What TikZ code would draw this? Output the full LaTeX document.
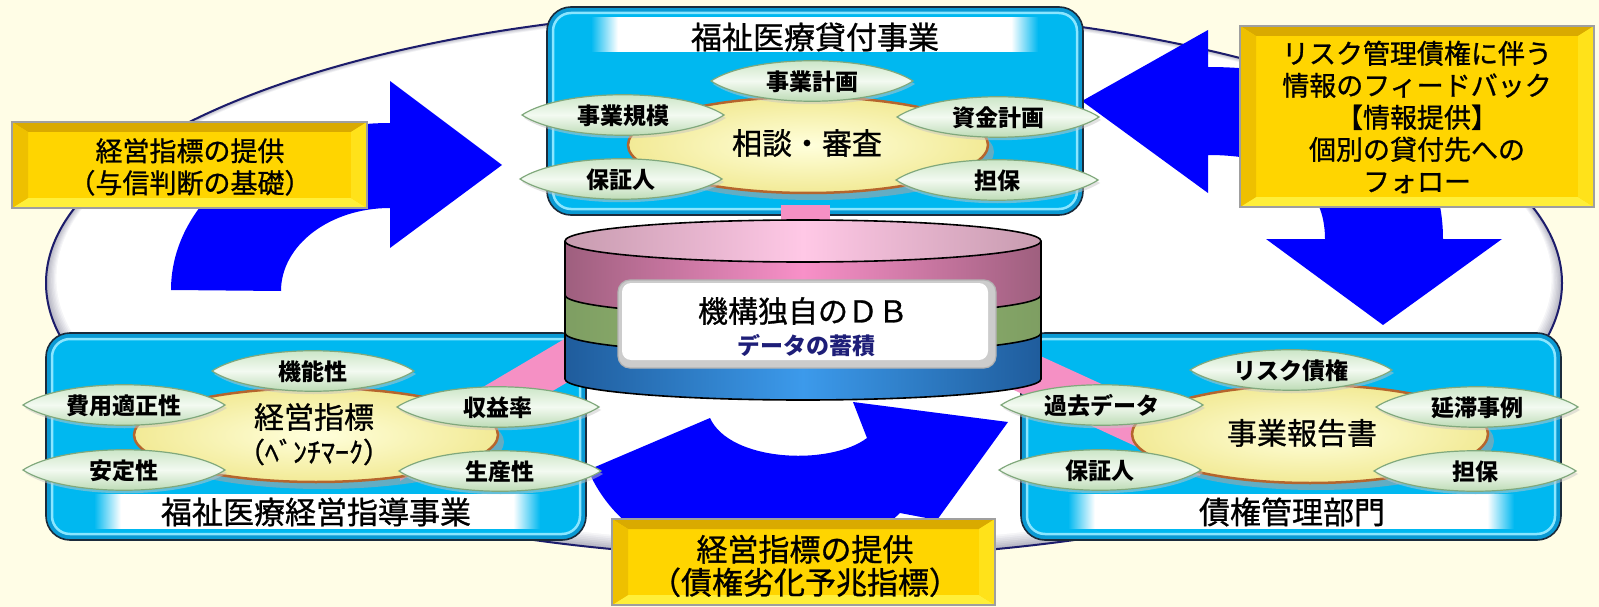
\documentclass[tikz,border=0pt]{standalone}
\usepackage{fontspec}
\newfontfamily\jp{Noto Sans CJK JP}
\newfontfamily\jpm{Noto Sans CJK JP}[FakeBold=0.9]
\definecolor{paper}{HTML}{FFFDE6}
\definecolor{rimnavy}{HTML}{1C1C6B}
\definecolor{rimgray}{HTML}{B4B4C2}
\definecolor{arrowblue}{HTML}{0000FF}
\definecolor{boxcyan}{HTML}{00B8F0}
\definecolor{boxedge}{HTML}{0A9AD4}
\definecolor{boxline}{HTML}{1B2B3B}
\definecolor{boxglow}{HTML}{8AE6FF}
\definecolor{linkpink}{HTML}{F590C4}
\definecolor{hubfill}{HTML}{FFFFDC}
\definecolor{hubedge}{HTML}{F2EA96}
\definecolor{hubrim}{HTML}{B5652D}
\definecolor{lenstop}{HTML}{BFDFB9}
\definecolor{lensmid}{HTML}{F3FAF1}
\definecolor{lensbot}{HTML}{ABD1A2}
\definecolor{lensrim}{HTML}{80A87C}
\definecolor{platefill}{HTML}{FFD500}
\definecolor{bevtop}{HTML}{D9AA00}
\definecolor{bevleft}{HTML}{EEC000}
\definecolor{bevright}{HTML}{FFE21A}
\definecolor{bevbot}{HTML}{FFEF3A}
\definecolor{dbtopedge}{HTML}{C79BAF}
\definecolor{dbtopmid}{HTML}{FFC8E6}
\definecolor{dbpinkedge}{HTML}{9E5F7E}
\definecolor{dbpinkmid}{HTML}{F890C8}
\definecolor{dbgreenedge}{HTML}{7E9E62}
\definecolor{dbgreenmid}{HTML}{9CC07A}
\definecolor{dbblueedge}{HTML}{1F5C9C}
\definecolor{dbbluemid}{HTML}{3C9AEB}
\definecolor{dbnavy}{HTML}{1E1E78}

% white title strip whose ends melt into the panel colour
\pgfdeclarehorizontalshading{barfade}{100bp}{color(0bp)=(boxcyan); color(25bp)=(boxcyan); color(28bp)=(white); color(72bp)=(white); color(75bp)=(boxcyan); color(100bp)=(boxcyan)}

% pointed green tag with its text
\newcommand\lens[4]{%
  \fill[gray!45, opacity=0.5] (#2-99,#3+3) .. controls (#2-60,#3-23) and (#2+60,#3-23) .. (#2+103,#3+3)
     .. controls (#2+60,#3+30) and (#2-60,#3+30) .. (#2-99,#3+3) -- cycle;
  \path[lensbody] (#2-101,#3) .. controls (#2-60,#3-27) and (#2+60,#3-27) .. (#2+101,#3)
     .. controls (#2+60,#3+27) and (#2-60,#3+27) .. (#2-101,#3) -- cycle;
  \node[lenslabel] (#1) at (#2,#3+1) {#4};}

% bevelled gold plate
\newcommand\goldplate[4]{%
  \fill[platefill] (#1,#2) rectangle (#3,#4);
  \fill[bevtop] (#1,#2) -- (#3,#2) -- (#3-16,#2+10) -- (#1+16,#2+10) -- cycle;
  \fill[bevbot] (#1,#4) -- (#3,#4) -- (#3-16,#4-10) -- (#1+16,#4-10) -- cycle;
  \fill[bevleft] (#1,#2) -- (#1+16,#2+10) -- (#1+16,#4-10) -- (#1,#4) -- cycle;
  \fill[bevright] (#3,#2) -- (#3-16,#2+10) -- (#3-16,#4-10) -- (#3,#4) -- cycle;
  \draw[gray!75, line width=2pt] (#1,#2) rectangle (#3,#4);}

% rounded cyan panel
\newcommand\panel[4]{%
  \filldraw[fill=boxedge, draw=boxline, line width=1.6pt, rounded corners=24pt] (#1,#2) rectangle (#3,#4);
  \filldraw[fill=boxcyan, draw=boxglow, line width=2.5pt, rounded corners=18pt] (#1+6,#2+6) rectangle (#3-6,#4-6);}

\begin{document}
\begin{tikzpicture}[x=1pt, y=-1pt,
  lensbody/.style={top color=lenstop, bottom color=lensbot, middle color=lensmid, draw=lensrim, line width=1.2pt},
  lenslabel/.style={font=\jp\bfseries\fontsize{23}{26}\selectfont, inner sep=0pt},
  hub/.style={inner color=hubfill, outer color=hubedge, draw=hubrim, line width=2.5pt},
  hubshadow/.style={fill=gray!70, opacity=0.6},
  hubtext/.style={font=\jpm\fontsize{30}{34}\selectfont, inner sep=0pt},
  paneltitle/.style={font=\jpm\fontsize{31}{34}\selectfont, inner sep=0pt},
  notetext/.style={font=\jpm\fontsize{27}{32}\selectfont, align=center, inner sep=0pt},
  dbline/.style={draw=black, line width=1.6pt},
  dbtitle/.style={font=\jpm\fontsize{30}{34}\selectfont, inner sep=0pt},
  dbsub/.style={font=\jp\bfseries\fontsize{23}{26}\selectfont, text=dbnavy, inner sep=0pt}]
\useasboundingbox (0,0) rectangle (1599,607);
\fill[paper] (0,0) rectangle (1599,607);

% large ring behind everything, shaded towards its rim
\foreach \k in {0,...,8} {
  \pgfmathtruncatemacro\tint{\k*100/8}
  \fill[white!\tint!rimgray] (804,283-0.6*\k) ellipse [x radius=758-1.3*\k, y radius=275-1.2*\k];
}
\draw[rimnavy, line width=2pt] (804,283) ellipse [x radius=758, y radius=275];

% blue flow arrows
\fill[arrowblue] (171,290) .. controls (171,198) and (269,123) .. (390,123) -- (390,81) -- (502,165)
  -- (390,248) -- (390,208) .. controls (330,208) and (281,245) .. (281,291) -- cycle;
\fill[arrowblue] (1208,67) -- (1208,30) -- (1082,101) -- (1208,193) -- (1208,155)
  .. controls (1285,155) and (1325,185) .. (1325,239) -- (1266,239) -- (1383,325) -- (1502,239)
  -- (1443,239) .. controls (1443,130) and (1350,67) .. (1208,67) -- cycle;
\fill[arrowblue] (710,418) .. controls (730,462) and (830,466) .. (867,438) -- (853,402) -- (1008,422)
  -- (937,520) -- (900,513) .. controls (820,590) and (640,590) .. (588,470) -- cycle;

% the three panels
\panel{547}{7}{1083}{215}
\fill[shading=barfade] (591,18) rectangle (1038,52);
\node[paneltitle] (loanTitle) at (815,37) {福祉医療貸付事業};

\panel{46}{333}{586}{540}
\fill[shading=barfade] (94,494) rectangle (540,528);
\node[paneltitle] (guideTitle) at (316,512) {福祉医療経営指導事業};

\panel{1021}{333}{1561}{540}
\fill[shading=barfade] (1068,494) rectangle (1514,528);
\node[paneltitle] (claimTitle) at (1292,512) {債権管理部門};

% pink links to the database
\fill[linkpink] (781,205) rectangle (830,224);
\fill[linkpink] (600,318) -- (400,436) -- (400,481) -- (600,363) -- cycle;
\fill[linkpink] (990,333) -- (1200,429) -- (1200,476) -- (990,379) -- cycle;

% database cylinder
\path[left color=dbblueedge, right color=dbblueedge, middle color=dbbluemid]
  (565,241) -- (565,379) arc[start angle=180, end angle=0, x radius=238, y radius=21] -- (1041,241) -- cycle;
\path[left color=dbgreenedge, right color=dbgreenedge, middle color=dbgreenmid]
  (565,241) -- (565,333) arc[start angle=180, end angle=0, x radius=238, y radius=21] -- (1041,241) -- cycle;
\path[left color=dbpinkedge, right color=dbpinkedge, middle color=dbpinkmid]
  (565,241) -- (565,295) arc[start angle=180, end angle=0, x radius=238, y radius=21] -- (1041,241) -- cycle;
\path[left color=dbtopedge, right color=dbtopedge, middle color=dbtopmid]
  (803,241) ellipse [x radius=238, y radius=21];
\draw[dbline] (565,241) -- (565,379) arc[start angle=180, end angle=0, x radius=238, y radius=21] -- (1041,241);
\draw[dbline] (565,295) arc[start angle=180, end angle=0, x radius=238, y radius=21];
\draw[dbline] (565,333) arc[start angle=180, end angle=0, x radius=238, y radius=21];
\draw[dbline] (803,241) ellipse [x radius=238, y radius=21];

\filldraw[fill=gray!40, draw=gray!60, line width=1.2pt, rounded corners=12pt] (618,280) rectangle (996,368);
\fill[white, rounded corners=9pt] (622,283) rectangle (988,360);
\node[dbtitle] (dbName) at (803,311) {機構独自のＤＢ};
\node[dbsub] (dbSub) at (806,346) {データの蓄積};

% hubs
\fill[hubshadow] (814,152) ellipse [x radius=180, y radius=48];
\path[hub] (808,145) ellipse [x radius=180, y radius=48];
\node[hubtext] (screening) at (807,143) {相談・審査};

\fill[hubshadow] (322,442) ellipse [x radius=182, y radius=47];
\path[hub] (316,435) ellipse [x radius=182, y radius=47];
\node[hubtext] (benchmark) at (314,417) {経営指標};
\node[hubtext, font=\jpm\fontsize{28}{32}\selectfont] (benchmarkSub) at (314,452) {（ﾍﾞﾝﾁﾏｰｸ）};

\fill[hubshadow] (1316,441) ellipse [x radius=178, y radius=49];
\path[hub] (1310,434) ellipse [x radius=178, y radius=49];
\node[hubtext] (report) at (1302,433) {事業報告書};

% tags around each hub
\lens{planTop}{812}{81}{事業計画}
\lens{scaleTop}{623}{115}{事業規模}
\lens{fundTop}{998}{117}{資金計画}
\lens{guarTop}{621}{179}{保証人}
\lens{collTop}{997}{180}{担保}

\lens{funcLeft}{313}{371}{機能性}
\lens{costLeft}{124}{405}{費用適正性}
\lens{profLeft}{498}{407}{収益率}
\lens{stabLeft}{124}{470}{安定性}
\lens{prodLeft}{500}{471}{生産性}

\lens{riskRight}{1291}{370}{リスク債権}
\lens{pastRight}{1102}{405}{過去データ}
\lens{lateRight}{1477}{407}{延滞事例}
\lens{guarRight}{1100}{470}{保証人}
\lens{collRight}{1475}{471}{担保}

% gold notes
\goldplate{12}{122}{367}{208}
\node[notetext] (creditNote) at (190,167) {経営指標の提供\\（与信判断の基礎）};

\goldplate{1240}{26}{1594}{207}
\node[notetext] (feedbackNote) at (1417,117) {リスク管理債権に伴う\\情報のフィードバック\\【情報提供】\\個別の貸付先への\\フォロー};

\goldplate{612}{519}{995}{605}
\node[notetext, font=\jpm\fontsize{31}{33}\selectfont] (warningNote) at (805,566) {経営指標の提供\\（債権劣化予兆指標）};
\end{tikzpicture}
\end{document}
